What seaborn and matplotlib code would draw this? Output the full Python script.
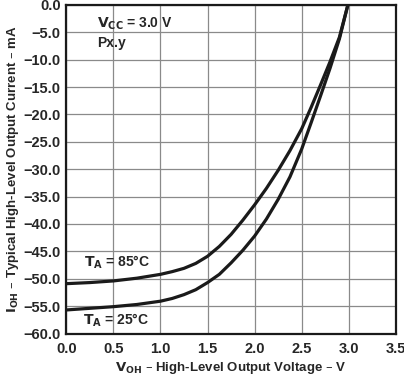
import numpy as np
import pandas as pd
import seaborn as sns
import matplotlib
matplotlib.use('Agg')
import matplotlib.pyplot as plt

# values
volts = [0.0, 0.25, 0.5, 0.75, 1.0, 1.125, 1.25, 1.375, 1.5, 1.625, 1.75, 1.875, 2.0,
         2.125, 2.25, 2.375, 2.5, 2.6, 2.7, 2.8, 2.9, 2.99]
i_85c = [-50.9, -50.7, -50.4, -49.9, -49.2, -48.7, -48.1, -47.2, -45.9, -44.1, -41.9, -39.3, -36.5,
         -33.5, -30.2, -26.6, -22.6, -18.7, -14.6, -10.4, -5.9, 0.0]
i_25c = [-55.7, -55.4, -55.1, -54.7, -54.1, -53.6, -52.9, -52.0, -50.7, -49.2, -47.1, -44.8, -42.2,
         -39.1, -35.5, -31.4, -26.3, -21.5, -16.6, -11.6, -6.2, 0.0]

x_ticks = [0.0, 0.5, 1.0, 1.5, 2.0, 2.5, 3.0, 3.5]
y_ticks = [0.0, -5.0, -10.0, -15.0, -20.0, -25.0, -30.0, -35.0, -40.0, -45.0, -50.0, -55.0, -60.0]

df = pd.DataFrame({
    'V': volts + volts,
    'I': i_85c + i_25c,
    'T': ['85'] * len(volts) + ['25'] * len(volts),
})

sns.set_style('white')
plt.rcParams['font.family'] = ['Liberation Sans', 'DejaVu Sans']
plt.rcParams['font.weight'] = 'bold'
plt.rcParams['mathtext.default'] = 'regular'

fig = plt.figure(figsize=(4.04, 3.76), dpi=100)
ax = fig.add_axes([0.164, 0.113, 0.816, 0.874])

sns.lineplot(data=df, x='V', y='I', hue='T', palette=['#1a1a1a', '#1a1a1a'],
             linewidth=2.3, legend=False, ax=ax, sort=True,
             solid_joinstyle='round', solid_capstyle='round')

ax.set_xlim(0, 3.5)
ax.set_ylim(-60, 0)
ax.set_xticks(x_ticks)
ax.set_yticks(y_ticks)
ax.set_xticklabels([f'{v:.1f}' for v in x_ticks], fontsize=10.5, fontweight='bold')
ax.set_yticklabels([f'{v:.1f}'.replace('-', '\u2212') for v in y_ticks],
                   fontsize=10.5, fontweight='bold')
ax.grid(True, color='#8a8a8a', linewidth=0.9)
ax.set_axisbelow(True)
for s in ax.spines.values():
    s.set_color('#1a1a1a')
    s.set_linewidth(1.6)
ax.tick_params(axis='x', length=0, pad=6)
ax.tick_params(axis='y', length=0, pad=4)

dash = '\u2013'
ax.set_xlabel(r'$\mathbf{V_{OH}}$ ' + dash + ' High-Level Output Voltage ' + dash + ' V',
              fontsize=9.5, fontweight='bold', labelpad=3)
ax.set_ylabel(r'$\mathbf{I_{OH}}$ ' + dash + ' Typical High-Level Output Current ' + dash + ' mA',
              fontsize=9.5, fontweight='bold', labelpad=2)

ax.text(0.33, -4.15, r'$\mathbf{V_{CC}}$ = 3.0 V', fontsize=10, fontweight='bold', va='baseline')
ax.text(0.33, -7.6, 'Px.y', fontsize=10, fontweight='bold', va='baseline')
ax.text(0.19, -47.8, r'$\mathbf{T_A}$ = 85°C', fontsize=10, fontweight='bold', va='baseline')
ax.text(0.18, -58.4, r'$\mathbf{T_A}$ = 25°C', fontsize=10, fontweight='bold', va='baseline')

fig.savefig('out.png', dpi=100)
